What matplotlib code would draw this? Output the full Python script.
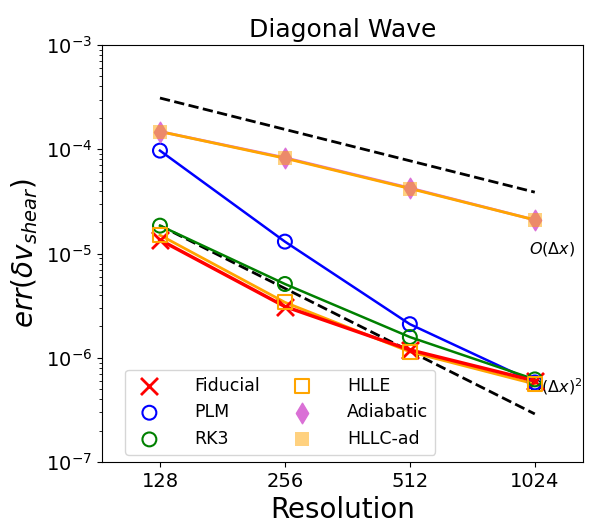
import numpy as np
import matplotlib
matplotlib.use('Agg')
import matplotlib.pyplot as plt
from matplotlib.ticker import FixedLocator, NullLocator, NullFormatter

resolution = [128, 256, 512, 1024]

err_fiducial = [1.35e-5, 3.1e-6, 1.19e-6, 6.0e-7]
err_plm = [9.7e-5, 1.3e-5, 2.1e-6, 5.8e-7]
err_rk3 = [1.85e-5, 5.1e-6, 1.58e-6, 6.2e-7]
err_hlle = [1.5e-5, 3.4e-6, 1.14e-6, 5.6e-7]
err_adiabatic = [1.48e-4, 8.3e-5, 4.25e-5, 2.1e-5]
err_hllc_ad = [1.48e-4, 8.2e-5, 4.2e-5, 2.1e-5]

first_order_ref = 3.1e-4
second_order_ref = 1.85e-5

res = np.array(resolution, dtype=float)

fig = plt.figure(figsize=(6.01, 5.28), dpi=100)
ax = fig.add_axes([102 / 601, 1 - 462 / 528, 481 / 601, 417 / 528])

# reference slopes
ax.plot(res, first_order_ref * (res[0] / res), 'k--', lw=2, zorder=1)
ax.plot(res, second_order_ref * (res[0] / res) ** 2, 'k--', lw=2, zorder=1)

# connecting lines
ax.plot(res, err_adiabatic, color='orchid', lw=2, zorder=2)
ax.plot(res, err_hllc_ad, color='orange', lw=2, zorder=2)
ax.plot(res, err_plm, color='blue', lw=1.8, zorder=2)
ax.plot(res, err_rk3, color='green', lw=1.8, zorder=2)
ax.plot(res, err_hlle, color='orange', lw=2, zorder=2)
ax.plot(res, err_fiducial, color='red', lw=2.5, zorder=3)

# markers
ax.scatter(res, err_fiducial, marker='x', s=150, color='red', lw=2, label='Fiducial', zorder=4)
ax.scatter(res, err_plm, marker='o', s=100, facecolors='none', edgecolors='blue', lw=1.5, label='PLM', zorder=4)
ax.scatter(res, err_rk3, marker='o', s=100, facecolors='none', edgecolors='green', lw=1.5, label='RK3', zorder=4)
ax.scatter(res, err_hlle, marker='s', s=100, facecolors='none', edgecolors='orange', lw=1.5, label='HLLE', zorder=4)
ax.scatter(res, err_adiabatic, marker='d', s=110, color='orchid', label='Adiabatic', zorder=4)
ax.scatter(res, err_hllc_ad, marker='s', s=110, color='orange', alpha=0.5, lw=0, label='HLLC-ad', zorder=5)

ax.set_xscale('log', base=2)
ax.set_yscale('log')
ax.set_xlim(92.8, 1338)
ax.set_ylim(1e-7, 1e-3)
ax.xaxis.set_major_locator(FixedLocator(resolution))
ax.set_xticklabels([str(r) for r in resolution])
ax.xaxis.set_minor_locator(NullLocator())
ax.xaxis.set_minor_formatter(NullFormatter())
ax.tick_params(axis='both', which='major', labelsize=14)

ax.text(990, 1.1e-5, r'$O(\Delta x)$', fontsize=11.5, ha='left', va='center')
ax.text(990, 5.3e-7, r'$O(\Delta x)^2$', fontsize=11.5, ha='left', va='center')

ax.set_title('Diagonal Wave', fontsize=18)
ax.set_xlabel('Resolution', fontsize=20)
ax.set_ylabel(r'$err(\delta v_{shear})$', fontsize=20)
ax.legend(loc='lower left', bbox_to_anchor=(0.048, 0.017), borderaxespad=0,
          ncol=2, fontsize=12.5, handletextpad=1.6, columnspacing=1.4)

fig.savefig('out.png', dpi=100)
